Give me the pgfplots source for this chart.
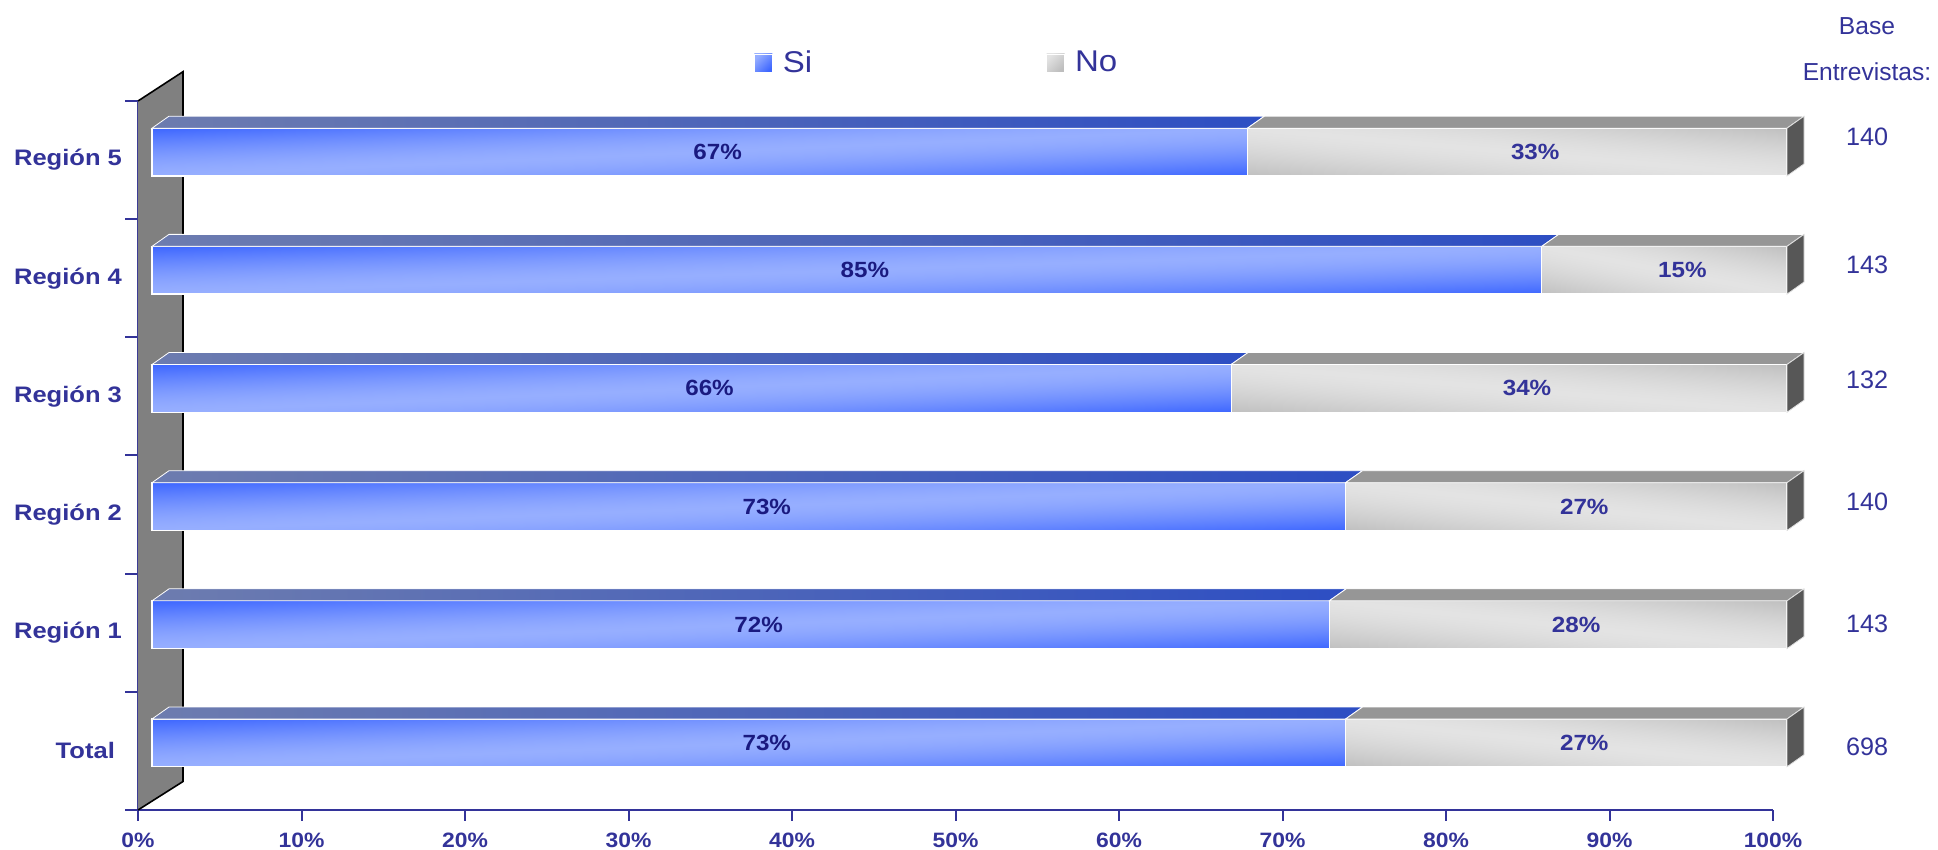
\documentclass[border=0pt]{standalone}
\usepackage{pgfplots}
\usepackage{pgfplotstable}
\pgfplotsset{compat=1.18}
\usepackage{fontspec}
\setmainfont{Liberation Sans}

\definecolor{axisblue}{HTML}{333399}
\definecolor{labnavy}{HTML}{1A1A80}
\definecolor{siDark}{HTML}{3D66FF}
\definecolor{siLight}{HTML}{96AEFF}
\definecolor{siTopL}{HTML}{6D7CAF}
\definecolor{siTopR}{HTML}{2D4EC3}
\definecolor{noDark}{HTML}{BDBDBD}
\definecolor{noLight}{HTML}{E3E3E3}
\definecolor{noTop}{HTML}{969696}
\definecolor{noSide}{HTML}{575757}
\definecolor{wallgray}{HTML}{808080}

% diagonal gradients of the bar fronts (light along one diagonal, darker in the other two corners)
\pgfdeclarefunctionalshading{siface}{\pgfpointorigin}{\pgfpoint{100bp}{100bp}}{}{
  exch sub 50 div abs 1.5 exp dup 1 gt {pop 1} if
  dup -0.349 mul 0.588 add exch
  dup -0.282 mul 0.682 add exch
  pop 1
}
\pgfdeclarefunctionalshading{noface}{\pgfpointorigin}{\pgfpoint{100bp}{100bp}}{}{
  add 100 sub 50 div abs 1.5 exp dup 1 gt {pop 1} if
  -0.14 mul 0.89 add dup dup
}

% y = category slot (Total at the bottom), si/no in percent, n = base, ny = where the base is written
\pgfplotstableread{
y si no n ny
0 73 27 698 0.535
1 72 28 143 1.574
2 73 27 140 2.606
3 66 34 132 3.638
4 85 15 143 4.610
5 67 33 140 5.700
}\datatable
\pgfplotstablecreatecol[create col/expr={\thisrow{y}+0.568}]{yc}\datatable
\pgfplotstablecreatecol[create col/expr={\thisrow{si}/2+1.1}]{sic}\datatable
\pgfplotstablecreatecol[create col/expr={\thisrow{si}+\thisrow{no}/2+1.1}]{noc}\datatable

\newcommand\sx[1]{\scalebox{1.1}[1]{#1}}
\newcommand\sy[1]{\scalebox{1.14}[1]{#1}}
\tikzset{pct/.style={font=\fontsize{10.4}{12}\selectfont\bfseries}}
\pgfplotsset{
  base/.style={
    scale only axis, width=817.5pt, height=354.5pt,
    xmin=0, xmax=100, ymin=0, ymax=6,
    enlargelimits=false, anchor=south west, clip=false,
    /pgf/number format/assume math mode=true,
  },
}

\begin{document}
\begin{tikzpicture}
\path[use as bounding box] (-69pt,-20pt) rectangle (900pt,405pt);

% axes, ticks, back wall, base numbers
\begin{axis}[base, at={(0pt,0pt)},
  axis lines=left,
  axis line style={-, draw=axisblue, line width=1pt},
  tick align=outside,
  tick style={draw=axisblue, line width=1pt},
  major tick length=5.5pt, minor tick length=6.5pt,
  xtick={0,10,...,100},
  xticklabel={\sx{\pgfmathprintnumber{\tick}\%}},
  ticklabel style={pct, text=axisblue},
  xticklabel style={yshift=-2.5pt},
  yticklabel style={font=\fontsize{11.2}{13}\selectfont\bfseries, xshift=1pt},
  ytick={0.5,1.5,2.5,3.5,4.5,5.5},
  yticklabels={\sy{Total\ },\sy{Región 1},\sy{Región 2},\sy{Región 3},\sy{Región 4},\sy{Región 5}},
  minor ytick={0,1,2,3,4,5,6},
  every major y tick/.append style={draw=none},
]
\addplot[fill=wallgray, draw=none] coordinates {(0,0) (2.752,0.241) (2.752,6.248) (0,6)} -- cycle;
\addplot[black, line width=0.8pt] coordinates {(0,0) (2.752,0.241) (2.752,6.248) (0,6)};
\addplot[only marks, mark=none, point meta=explicit symbolic,
  nodes near coords, nodes near coords style={anchor=center, text=axisblue, font=\fontsize{12.6}{14}\selectfont}]
  table[x expr=105.75, y=ny, meta=n] {\datatable};
\node[text=axisblue, font=\fontsize{12.3}{14}\selectfont] at (axis cs:105.75,6.637) {Base};
\node[text=axisblue, font=\fontsize{12.3}{14}\selectfont] at (axis cs:105.75,6.244) {Entrevistas:};
\end{axis}

% stacked bars, moved right by the depth of the 3D effect
\begin{axis}[base, at={(7pt,0pt)}, hide axis,
  xbar stacked, bar width=23.85pt,
  legend columns=2,
  legend style={at={(0.368,1.0536)}, anchor=west, draw=none, fill=none, inner sep=0pt,
    font=\fontsize{15}{17}\selectfont, text=axisblue,
    /tikz/every odd column/.append style={column sep=3pt},
    /tikz/every even column/.append style={column sep=115pt}},
]
\addplot[draw=none, fill=siLight,
  legend image code/.code={\draw[draw=white, top color=siLight, bottom color=siDark, shading angle=45] (0pt,-4.5pt) rectangle (9pt,4.5pt);}]
  table[x=si, y=yc] {\datatable};
\addlegendentry{\sx{Si}}
\addplot[draw=none, fill=noLight,
  legend image code/.code={\draw[draw=white, top color=noLight, bottom color=noDark, shading angle=45] (0pt,-4.5pt) rectangle (9pt,4.5pt);}]
  table[x=no, y=yc] {\datatable};
\addlegendentry{\sx{No}}
\end{axis}

% shaded front faces (one path per bar), top and end faces, value labels
\begin{axis}[base, at={(7pt,0pt)}, hide axis]
\pgfplotsinvokeforeach{0,...,5}{
  \pgfplotstablegetelem{#1}{si}\of\datatable
  \pgfmathsetmacro\xa{\pgfplotsretval}
  \pgfplotstablegetelem{#1}{no}\of\datatable
  \pgfmathsetmacro\xc{\xa+\pgfplotsretval}
  \pgfmathsetmacro\xab{\xa+1.04}
  \pgfmathsetmacro\xcb{\xc+1.04}
  \pgfmathsetmacro\yt{#1+0.77}
  \pgfmathsetmacro\ytb{#1+0.8715}
  \pgfmathsetmacro\yb{#1+0.366}
  \pgfmathsetmacro\ybb{#1+0.4675}
  \addplot[draw=white, line width=0.6pt, shade, shading=siface]
    coordinates {(0,\yb) (\xa,\yb) (\xa,\yt) (0,\yt)} -- cycle;
  \addplot[draw=white, line width=0.6pt, shade, shading=noface]
    coordinates {(\xa,\yb) (\xc,\yb) (\xc,\yt) (\xa,\yt)} -- cycle;
  \addplot[draw=white, line width=0.4pt, left color=siTopL, right color=siTopR]
    coordinates {(0,\yt) (\xa,\yt) (\xab,\ytb) (1.04,\ytb)} -- cycle;
  \addplot[draw=white, line width=0.4pt, fill=noTop]
    coordinates {(\xa,\yt) (\xc,\yt) (\xcb,\ytb) (\xab,\ytb)} -- cycle;
  \addplot[draw=white!75!gray, line width=0.4pt, fill=noSide]
    coordinates {(\xc,\yb) (\xc,\yt) (\xcb,\ytb) (\xcb,\ybb)} -- cycle;
}
\addplot[only marks, mark=none, point meta=explicit,
  nodes near coords={\sx{\pgfmathprintnumber{\pgfplotspointmeta}\%}},
  nodes near coords style={anchor=center, font=\fontsize{11}{13}\selectfont\bfseries, text=labnavy}]
  table[x=sic, y=yc, meta=si] {\datatable};
\addplot[only marks, mark=none, point meta=explicit,
  nodes near coords={\sx{\pgfmathprintnumber{\pgfplotspointmeta}\%}},
  nodes near coords style={anchor=center, font=\fontsize{11}{13}\selectfont\bfseries, text=axisblue}]
  table[x=noc, y=yc, meta=no] {\datatable};
\end{axis}
\end{tikzpicture}
\end{document}
